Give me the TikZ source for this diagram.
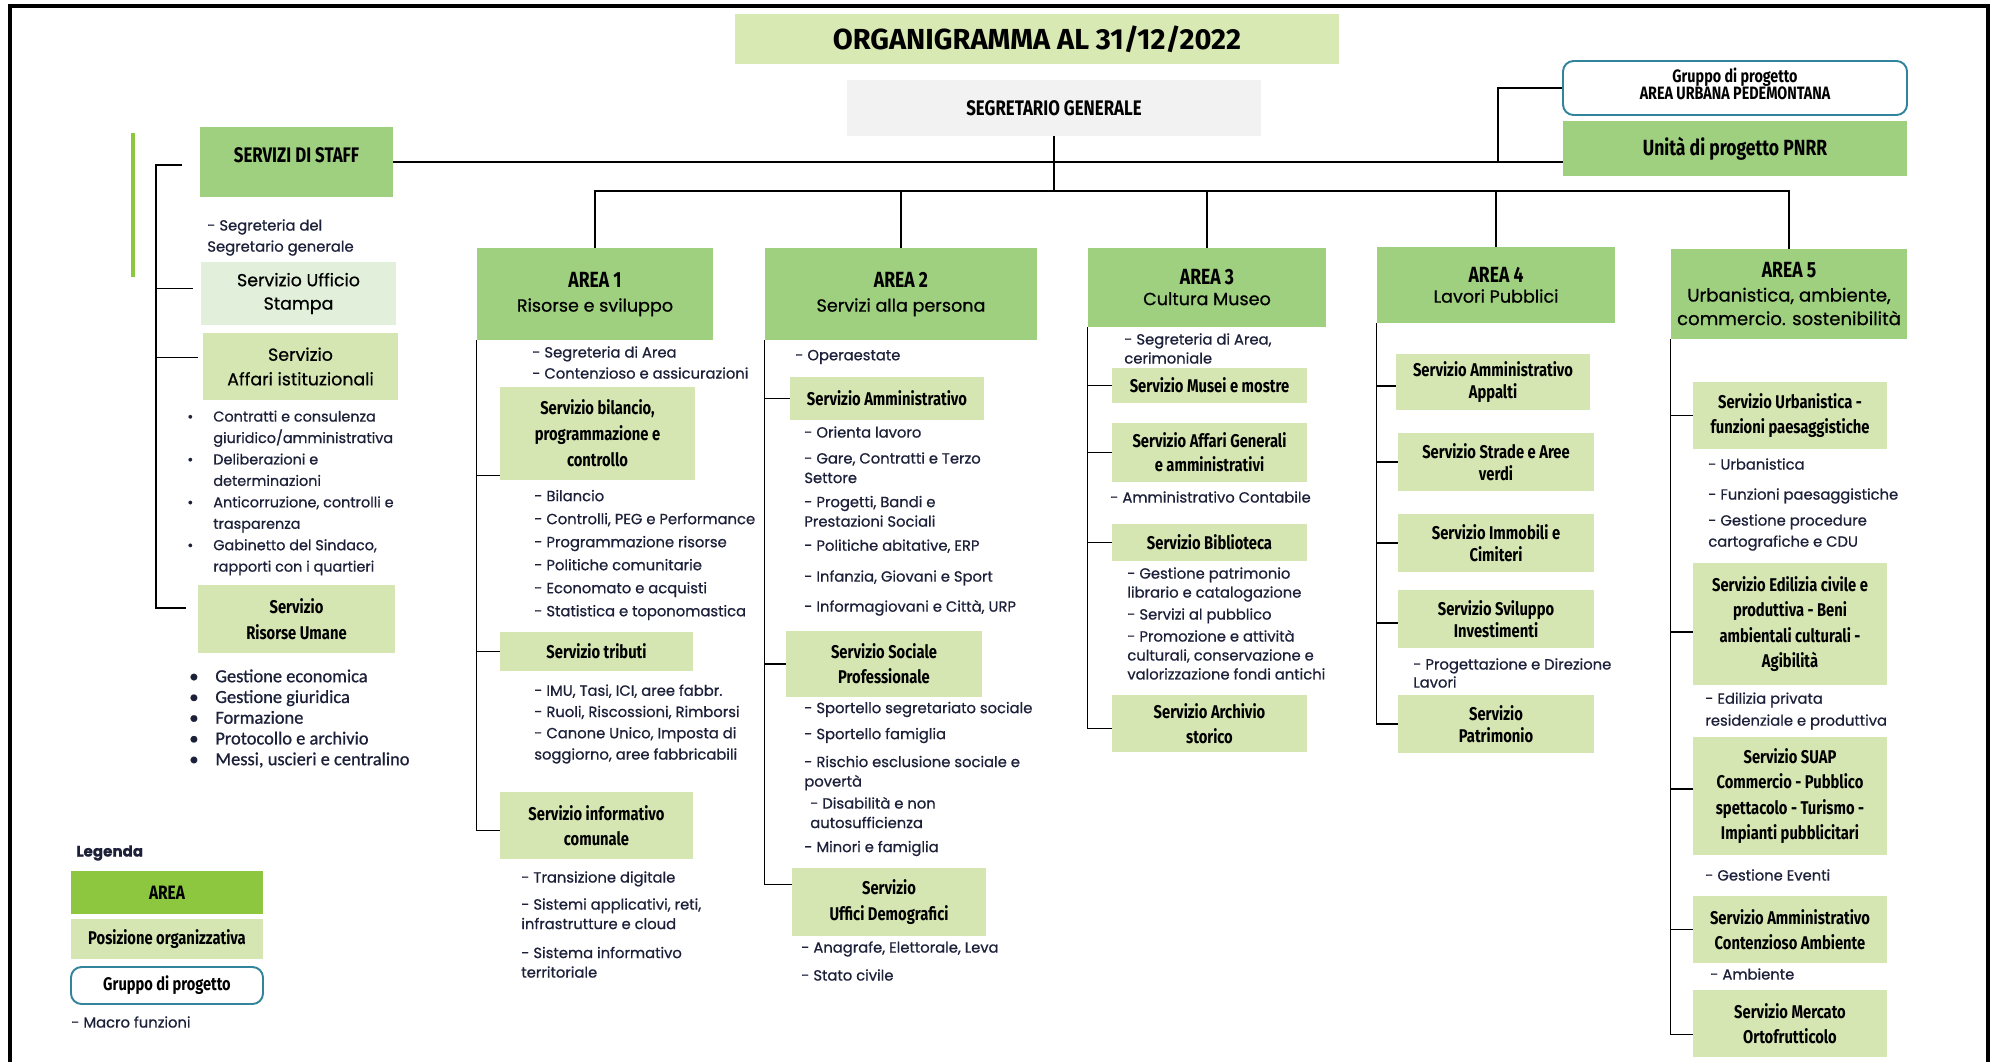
\documentclass[tikz,border=0pt]{standalone}
\usepackage{fontspec}
\setmainfont{Poppins}[FakeBold=0.7]
\newfontfamily\cond[FakeStretch=0.8]{Fira Sans}
\newfontfamily\titlef{Fira Sans}
\newfontfamily\calib[FakeBold=0.8]{Carlito}
\usetikzlibrary{calc}
\definecolor{areag}{HTML}{9FD07F}
\definecolor{pog}{HTML}{D6E6B3}
\definecolor{stampag}{HTML}{E2EFDA}
\definecolor{titleg}{HTML}{D8E9B3}
\definecolor{sgg}{HTML}{F2F2F2}
\definecolor{limeg}{HTML}{8DC63F}
\definecolor{tealb}{HTML}{31849B}
\definecolor{itemc}{HTML}{1C2039}
\newcommand\bx[7]{\node[#1, minimum width={(#5-#3)*0.02cm}, minimum height={(#6-#4)*0.02cm}] (#2) at ({(#3+#5)/2},{(#4+#6)/2}) {#7};}
\newcommand\areat[1]{{\cond\bfseries\fontsize{12.5}{14}\selectfont AREA #1}}
\newcommand\bul{\makebox[14.8pt][l]{\textbullet}}
\newcommand\nbul{\hspace*{14.8pt}}
\newcommand\up[2]{\raisebox{0pt}[\height][\dimexpr\depth+#1\relax]{#2}}
\begin{document}
\begin{tikzpicture}[x=0.02cm,y=-0.02cm,
 box/.style={inner sep=0pt, align=center, text=black},
 areabox/.style={box, fill=areag, font=\fontsize{10}{14}\selectfont},
 pobox/.style={box, fill=pog, font=\cond\bfseries\fontsize{10.5}{14.5}\selectfont},
 grp/.style={box, draw=tealb, line width=1.1pt, rounded corners=6pt, fill=white},
 itm/.style={anchor=west, inner sep=0pt, align=left, text=itemc, font=\fontsize{8.4}{11.1}\selectfont},
 conn/.style={line width=0.9pt},
 busl/.style={line width=1.6pt},
]
\fill[white] (0,0) rectangle (1997,1062);
\useasboundingbox (0,0) rectangle (1997,1062);
\draw[line width=2pt] (10,1062) -- (10,6) -- (1988,6) -- (1988,1062);
\draw[limeg, line width=2.4pt] (133,133) -- (133,277);

% top
\bx{box, fill=titleg, font=\titlef\bfseries\fontsize{16.5}{18}\selectfont}{title}{735}{14}{1339}{64}{ORGANIGRAMMA AL 31/12/2022}
\bx{box, fill=sgg, font=\cond\bfseries\fontsize{12}{13}\selectfont}{sg}{847}{80}{1261}{136}{SEGRETARIO GENERALE}
\bx{grp, font=\cond\bfseries\fontsize{10.2}{9.6}\selectfont}{gruppo}{1563}{61}{1907}{115}{Gruppo di progetto\\\up{5pt}{AREA URBANA PEDEMONTANA}}
\bx{box, fill=areag, font=\cond\bfseries\fontsize{12.5}{13}\selectfont}{pnrr}{1563}{121}{1907}{176}{Unità di progetto PNRR}

% staff
\bx{box, fill=areag, font=\cond\bfseries\fontsize{12}{12}\selectfont}{staff}{200}{127}{393}{197}{\up{8pt}{SERVIZI DI STAFF}}
\node[itm, font=\fontsize{8.4}{12}\selectfont] (segtxt) at (207,237.5) {- Segreteria del\\Segretario generale};
\bx{box, fill=stampag, font=\fontsize{9.9}{13.3}\selectfont}{stampa}{201}{262}{396}{325}{Servizio Ufficio\\Stampa}
\bx{box, fill=pog, font=\fontsize{9.9}{14}\selectfont}{affari}{203}{333}{398}{400}{Servizio\\Affari istituzionali}
\node[itm, font=\fontsize{8.2}{12.2}\selectfont] (affitems) at (187,493) {\bul Contratti e consulenza\\\nbul giuridico/amministrativa\\\bul Deliberazioni e\\\nbul determinazioni\\\bul Anticorruzione, controlli e\\\nbul trasparenza\\\bul Gabinetto del Sindaco,\\\nbul rapporti con i quartieri};
\bx{pobox}{ru}{198}{585}{395}{653}{Servizio\\Risorse Umane}
\node[itm, font=\calib\fontsize{10.5}{11.8}\selectfont] (ruitems) at (189,718.5) {\bul Gestione economica\\\bul Gestione giuridica\\\bul Formazione\\\bul Protocollo e archivio\\\bul Messi, uscieri e centralino};

% legend
\node[anchor=west, inner sep=0pt, font=\bfseries\fontsize{8.6}{10}\selectfont, text=itemc] (legt) at (76,853) {Legenda};
\bx{box, fill=limeg, font=\cond\bfseries\fontsize{11}{12}\selectfont}{legA}{71}{871}{263}{914}{AREA}
\bx{pobox, font=\cond\bfseries\fontsize{10.5}{12}\selectfont}{legPO}{71}{919}{263}{959}{Posizione organizzativa}
\bx{grp, font=\cond\bfseries\fontsize{10.4}{12}\selectfont}{legG}{71}{967}{263}{1004}{Gruppo di progetto}
\node[itm] (legM) at (71,1022) {- Macro funzioni};

% areas
\bx{areabox}{a1}{477}{248}{713}{340}{\areat{1}\\Risorse e sviluppo}
\bx{areabox}{a2}{765}{248}{1037}{340}{\areat{2}\\Servizi alla persona}
\bx{areabox, font=\fontsize{10}{11.5}\selectfont}{a3}{1088}{248}{1326}{327}{\areat{3}\\Cultura Museo}
\bx{areabox, font=\fontsize{10}{11.5}\selectfont}{a4}{1377}{247}{1615}{323}{\areat{4}\\Lavori Pubblici}
\bx{areabox, font=\fontsize{10.3}{13.4}\selectfont}{a5}{1671}{249}{1907}{339}{\areat{5}\\Urbanistica, ambiente,\\commercio. sostenibilità}

% area 1
\node[itm, font=\fontsize{8.4}{12}\selectfont] (a1t1) at (532,362.5) {- Segreteria di Area\\- Contenzioso e assicurazioni};
\bx{pobox, font=\cond\bfseries\fontsize{10.5}{14.8}\selectfont}{bil}{500}{387}{695}{480}{Servizio bilancio,\\programmazione e\\controllo}
\node[itm, font=\fontsize{8.4}{13.1}\selectfont] (a1t2) at (534,555) {- Bilancio\\- Controlli, PEG e Performance\\- Programmazione risorse\\- Politiche comunitarie\\- Economato e acquisti\\- Statistica e toponomastica};
\bx{pobox}{trib}{500}{632}{693}{671}{Servizio tributi}
\node[itm, font=\fontsize{8.4}{12.1}\selectfont] (a1t3) at (534,724) {- IMU, Tasi, ICI, aree fabbr.\\- Ruoli, Riscossioni, Rimborsi\\- Canone Unico, Imposta di\\soggiorno, aree fabbricabili};
\bx{pobox}{inf}{500}{792}{693}{859}{Servizio informativo\\comunale}
\node[itm] (a1t4) at (521,924.5) {- Transizione digitale\\[4.3pt]- Sistemi applicativi, reti,\\infrastrutture e cloud\\[5.4pt]- Sistema informativo\\territoriale};

% area 2
\node[itm] (a2t0) at (795,357) {- Operaestate};
\bx{pobox}{amm}{790}{377}{984}{420}{Servizio Amministrativo}
\node[itm] (a2t1) at (804,521) {- Orienta lavoro\\[3.7pt]- Gare, Contratti e Terzo\\Settore\\[2.6pt]- Progetti, Bandi e\\Prestazioni Sociali\\[2.6pt]- Politiche abitative, ERP\\[6.5pt]- Infanzia, Giovani e Sport\\[6pt]- Informagiovani e Città, URP};
\bx{pobox, font=\cond\bfseries\fontsize{10.5}{14.2}\selectfont}{soc}{786}{631}{982}{697}{Servizio Sociale\\Professionale}
\node[itm] (a2t2) at (804,779) {- Sportello segretariato sociale\\[3.7pt]- Sportello famiglia\\[4.8pt]- Rischio esclusione sociale e\\povertà\\[1.4pt]\hspace*{3.4pt}- Disabilità e non\\\hspace*{3.4pt}autosufficienza\\[2.6pt]- Minori e famiglia};
\bx{pobox}{dem}{792}{868}{986}{936}{Servizio\\Uffici Demografici}
\node[itm, font=\fontsize{8.4}{15.9}\selectfont] (a2t3) at (801,961) {- Anagrafe, Elettorale, Leva\\- Stato civile};

% area 3
\node[itm, font=\fontsize{8.4}{10.8}\selectfont] (a3t1) at (1124,348.5) {- Segreteria di Area,\\cerimoniale};
\bx{pobox}{mus}{1112}{368}{1307}{403}{Servizio Musei e mostre}
\bx{pobox, font=\cond\bfseries\fontsize{10.5}{13.7}\selectfont}{ag}{1112}{423}{1307}{482}{Servizio Affari Generali\\e amministrativi}
\node[itm] (a3t2) at (1110,497) {- Amministrativo Contabile};
\bx{pobox}{bib}{1112}{524}{1307}{561}{Servizio Biblioteca}
\node[itm, font=\fontsize{8.4}{10.8}\selectfont] (a3t3) at (1127,623.5) {- Gestione patrimonio\\librario e catalogazione\\[1.7pt]- Servizi al pubblico\\[1.7pt]- Promozione e attività\\culturali, conservazione e\\valorizzazione fondi antichi};
\bx{pobox}{arc}{1112}{695}{1307}{752}{Servizio Archivio\\storico}

% area 4
\bx{pobox, font=\cond\bfseries\fontsize{10.5}{12.5}\selectfont}{app}{1396}{354}{1590}{410}{Servizio Amministrativo\\Appalti}
\bx{pobox, font=\cond\bfseries\fontsize{10.5}{12.5}\selectfont}{str}{1398}{433}{1594}{491}{Servizio Strade e Aree\\verdi}
\bx{pobox, font=\cond\bfseries\fontsize{10.5}{12.5}\selectfont}{imm}{1398}{514}{1594}{572}{Servizio Immobili e\\Cimiteri}
\bx{pobox, font=\cond\bfseries\fontsize{10.5}{12.5}\selectfont}{svi}{1398}{590}{1594}{648}{Servizio Sviluppo\\Investimenti}
\node[itm, font=\fontsize{8.4}{10.3}\selectfont] (a4t1) at (1413,673) {- Progettazione e Direzione\\Lavori};
\bx{pobox, font=\cond\bfseries\fontsize{10.5}{12.5}\selectfont}{pat}{1398}{695}{1594}{753}{Servizio\\Patrimonio}

% area 5
\bx{pobox}{urb}{1693}{382}{1887}{449}{Servizio Urbanistica -\\funzioni paesaggistiche}
\node[itm, font=\fontsize{8.4}{12}\selectfont] (a5t1) at (1708,504.5) {- Urbanistica\\[5.1pt]- Funzioni paesaggistiche\\[2.8pt]- Gestione procedure\\cartografiche e CDU};
\bx{pobox}{edi}{1693}{563}{1887}{685}{Servizio Edilizia civile e\\produttiva - Beni\\ambientali culturali -\\Agibilità}
\node[itm, font=\fontsize{8.4}{12.5}\selectfont] (a5t2) at (1705,711) {- Edilizia privata\\residenziale e produttiva};
\bx{pobox}{suap}{1693}{737}{1887}{855}{Servizio SUAP\\Commercio - Pubblico\\spettacolo - Turismo -\\Impianti pubblicitari}
\node[itm] (a5t3) at (1705,875) {- Gestione Eventi};
\bx{pobox}{aca}{1693}{896}{1887}{963}{Servizio Amministrativo\\Contenzioso Ambiente}
\node[itm] (a5t4) at (1710,974) {- Ambiente};
\bx{pobox}{mer}{1693}{990}{1887}{1057}{Servizio Mercato\\Ortofrutticolo}

% connectors
\coordinate (bus) at (1054,191);
\coordinate (gj) at (1498,162);
\coordinate (stsp) at (156,165);
\draw[conn] (sg.south) -- (bus);
\draw[busl] (a1.north) |- (bus) -| (a5.north);
\foreach \n in {a2,a3,a4} \draw[conn] (\n.north) -- (\n.north |- bus);
\draw[busl] (staff.east) -- (staff.east -| pnrr.west);
\draw[conn] (gj) |- (gruppo.west);

\draw[conn] ($(staff.west)+(-18,3)$) -- (stsp) |- ($(ru.west)+(-12,-11)$);
\draw[conn] (stsp) |- ($(stampa.west)+(-8,-5)$);
\draw[conn] (stsp) |- ($(affari.west)+(-5,-9)$);

\draw[conn] (a1.south west) |- ($(bil.south west)+(0,-5)$);
\draw[conn] (a1.south west) |- (trib.west);
\draw[conn] (a1.south west) |- ($(inf.west)+(0,5)$);

\draw[conn] (a2.south west) |- (amm.west);
\draw[conn] (a2.south west) |- (soc.west);
\draw[conn] (a2.south west) |- ($(dem.north west)+(0,17)$);

\draw[conn] (a3.south west) |- (mus.west);
\draw[conn] (a3.south west) |- (ag.west);
\draw[conn] (a3.south west) |- (bib.west);
\draw[conn] (a3.south west) |- ($(arc.west)+(0,5)$);

\draw[conn] (a4.south west) |- ($(app.west)+(0,4)$);
\draw[conn] (a4.south west) |- (str.west);
\draw[conn] (a4.south west) |- (imm.west);
\draw[conn] (a4.south west) |- ($(svi.west)+(0,4)$);
\draw[conn] (a4.south west) |- (pat.west);

\draw[conn] (a5.south west) |- (urb.west);
\draw[conn] (a5.south west) |- ($(edi.west)+(0,8)$);
\draw[conn] (a5.south west) |- ($(suap.west)+(0,-7)$);
\draw[conn] (a5.south west) |- (aca.west);
\draw[conn] (a5.south west) |- ($(mer.west)+(0,11)$);
\end{tikzpicture}
\end{document}
